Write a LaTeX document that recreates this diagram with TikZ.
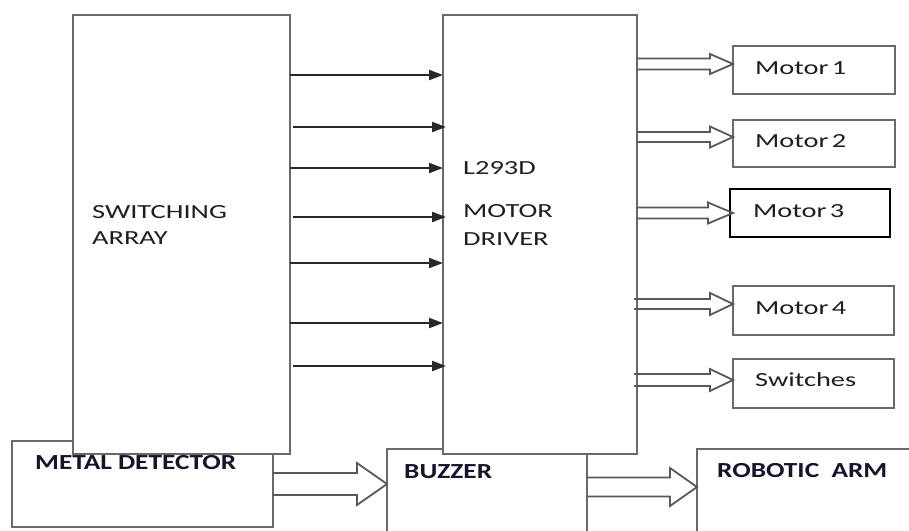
\documentclass[tikz,border=0pt]{standalone}
\usepackage{fontspec}
\setmainfont{Carlito}
\newfontfamily\regf[FakeStretch=1.42]{Carlito}
\newfontfamily\boldf[FakeStretch=1.27]{Carlito}
\usetikzlibrary{arrows.meta,calc}
\definecolor{boxgray}{RGB}{105,105,105}
\definecolor{linedark}{RGB}{40,40,40}
\definecolor{txt}{RGB}{30,30,35}
\definecolor{btxt}{RGB}{20,20,45}
\tikzset{
  blk/.style={draw=boxgray, line width=2.2pt, fill=white, minimum width=#1, inner sep=0pt, outer sep=0pt},
  lbl/.style={anchor=west, inner sep=0pt, text=txt, font=\regf\fontsize{20}{20}\selectfont},
  blbl/.style={anchor=west, inner sep=0pt, text=btxt, font=\boldf\bfseries\fontsize{21.5}{21.5}\selectfont},
  thinarr/.style={draw=linedark, line width=2.2pt, -{Triangle[length=14pt,width=10pt]}},
  fatline/.style={draw=boxgray!85!black, line width=1.8pt, line join=miter}
}
\newcommand{\hollowarr}[5]{%
  \draw[fatline] let \p1=(#1), \p2=(#2) in
    (\x1,\y2+#3) -- (\x2-#5,\y2+#3) -- (\x2-#5,\y2+#4) -- (\x2,\y2)
    -- (\x2-#5,\y2-#4) -- (\x2-#5,\y2-#3) -- (\x1,\y2-#3);}
\begin{document}
\begin{tikzpicture}[x=1pt,y=-1pt]
\clip (0,0) rectangle (909,530);
\fill[white] (0,0) rectangle (909,530);
% bottom boxes (behind)
\node[blk=261pt, minimum height=86pt] (md) at (142.5,484) {};
\node[blk=200pt, minimum height=121pt] (buz) at (487,509.5) {};
\node[blk=260pt, minimum height=121pt] (arm) at (827,509.5) {};
% main boxes
\node[blk=217pt, minimum height=439pt] (sw) at (181.5,234.5) {};
\node[blk=194pt, minimum height=439pt] (drv) at (540,234.5) {};
% output boxes
\node[blk=162pt, minimum height=48pt] (m1) at (814,70) {};
\node[blk=162pt, minimum height=47pt] (m2) at (814,143.5) {};
\node[blk=160pt, minimum height=48pt, draw=black] (m3) at (810,213) {};
\node[blk=161pt, minimum height=49pt] (m4) at (813.5,310.5) {};
\node[blk=161pt, minimum height=49pt] (swt) at (813.5,383.5) {};
% labels
\node[lbl] (t1) at (92,212) {SWITCHING};
\node[lbl] (t2) at (92,238) {ARRAY};
\node[lbl] (t3) at (463,168) {L293D};
\node[lbl] (t4) at (463,211) {MOTOR};
\node[lbl] (t5) at (463,239) {DRIVER};
\node[lbl] (l1) at (755,68) {Motor\,1};
\node[lbl] (l2) at (755,141) {Motor\,2};
\node[lbl] (l3) at (753,211) {Motor\,3};
\node[lbl] (l4) at (755,308) {Motor\,4};
\node[lbl] (l5) at (755,380) {Switches};
\node[blbl] (b1) at (35,463) {METAL DETECTOR};
\node[blbl] (b2) at (404,472) {BUZZER};
\node[blbl] (b3) at (717,471) {ROBOTIC\ \ ARM};
% thin arrows switching array -> motor driver
\draw[thinarr] (sw.east |- 0,75) -- (drv.west |- 0,75);
\draw[thinarr] ([xshift=3pt]sw.east |- 0,127) -- ([xshift=3pt]drv.west |- 0,127);
\draw[thinarr] (sw.east |- 0,168) -- (drv.west |- 0,168);
\draw[thinarr] ([xshift=3pt]sw.east |- 0,217) -- ([xshift=3pt]drv.west |- 0,217);
\draw[thinarr] (sw.east |- 0,263) -- (drv.west |- 0,263);
\draw[thinarr] (sw.east |- 0,323) -- (drv.west |- 0,323);
\draw[thinarr] ([xshift=3pt]sw.east |- 0,366) -- ([xshift=3pt]drv.west |- 0,366);
% hollow arrows motor driver -> outputs
\coordinate (e1) at ($(m1.west)+(0,-6)$);
\coordinate (e2) at ($(m2.west)+(0,-6.5)$);
\coordinate (e3) at ($(m3.west)+(3,0)$);
\coordinate (e4) at ($(m4.west)+(0,-6.5)$);
\coordinate (e5) at ($(swt.west)+(0,-3.5)$);
\hollowarr{drv.east}{e1}{5.5pt}{10pt}{23pt}
\hollowarr{drv.east}{e2}{5pt}{10.5pt}{23pt}
\hollowarr{drv.east}{e3}{5.5pt}{10.5pt}{25pt}
\hollowarr{[xshift=-3pt]drv.east}{e4}{5pt}{11pt}{23pt}
\hollowarr{[xshift=-3pt]drv.east}{e5}{6pt}{11pt}{23pt}
% bottom hollow arrows
\coordinate (f1) at (buz.west |- 0,484);
\coordinate (f2) at (arm.west |- 0,487);
\hollowarr{md.east}{f1}{11pt}{21pt}{30pt}
\hollowarr{buz.east}{f2}{9.5pt}{19pt}{27pt}
\end{tikzpicture}
\end{document}
